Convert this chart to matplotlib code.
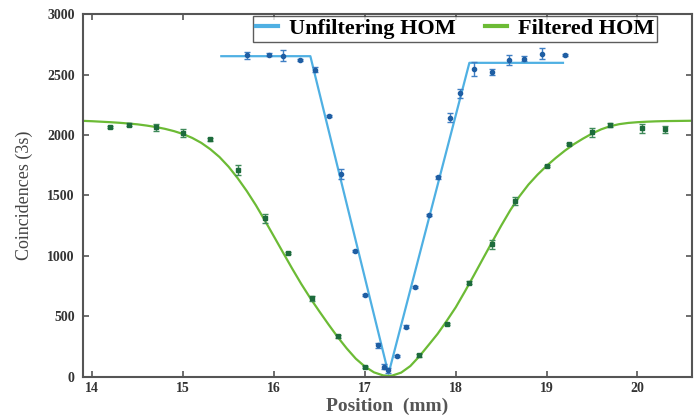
import numpy as np
import matplotlib.pyplot as plt

plt.rcParams['font.family'] = ['Liberation Serif', 'DejaVu Serif']

# unfiltered HOM measurements
pos_unf = [15.70, 15.95, 16.10, 16.29, 16.45, 16.60, 16.74, 16.89, 17.00, 17.14,
           17.21, 17.25, 17.35, 17.45, 17.55, 17.71, 17.80, 17.94, 18.05, 18.20,
           18.40, 18.59, 18.75, 18.95, 19.20]
cnt_unf = [2660, 2665, 2655, 2620, 2540, 2155, 1680, 1040, 675, 260,
           85, 55, 170, 415, 745, 1340, 1650, 2143, 2344, 2545,
           2520, 2620, 2630, 2672, 2663]
err_unf = [30, 10, 45, 10, 20, 10, 40, 10, 10, 20,
           20, 20, 10, 10, 10, 10, 15, 35, 35, 60,
           25, 40, 20, 45, 10]

# unfiltered fit (piecewise linear)
fit_unf_x = [15.42, 16.40, 17.26, 18.15, 19.18]
fit_unf_y = [2652, 2652, 25, 2597, 2597]

# filtered HOM measurements
pos_fil = [14.20, 14.40, 14.70, 15.00, 15.30, 15.60, 15.90, 16.15, 16.42, 16.70,
           17.00, 17.60, 17.90, 18.15, 18.40, 18.65, 19.00, 19.25, 19.50, 19.70,
           20.05, 20.30]
cnt_fil = [2068, 2086, 2065, 2017, 1965, 1710, 1310, 1025, 650, 335,
           85, 180, 440, 780, 1095, 1455, 1745, 1928, 2022, 2082,
           2055, 2048]
err_fil = [10, 15, 28, 35, 12, 40, 35, 10, 22, 10,
           8, 12, 8, 10, 40, 30, 10, 10, 35, 15,
           35, 30]

# filtered fit curve
fit_fil_x = [13.9, 14.0, 14.1, 14.2, 14.3, 14.4, 14.5, 14.6, 14.7, 14.8,
             14.9, 15.0, 15.1, 15.2, 15.3, 15.4, 15.5, 15.6, 15.7, 15.8,
             15.9, 16.0, 16.1, 16.2, 16.3, 16.4, 16.5, 16.6, 16.7, 16.8,
             16.9, 17.0, 17.1, 17.2, 17.26, 17.3, 17.4, 17.5, 17.6, 17.7,
             17.8, 17.9, 18.0, 18.1, 18.2, 18.3, 18.4, 18.5, 18.6, 18.7,
             18.8, 18.9, 19.0, 19.1, 19.2, 19.3, 19.4, 19.5, 19.6, 19.7,
             19.8, 19.9, 20.0, 20.1, 20.2, 20.3, 20.4, 20.5, 20.6]
fit_fil_y = [2117, 2114, 2110, 2106, 2101, 2095, 2088, 2078, 2066, 2051,
             2032, 2008, 1976, 1935, 1882, 1818, 1738, 1643, 1537, 1420,
             1292, 1160, 1027, 895, 768, 650, 540, 433, 330, 235,
             150, 85, 37, 12, 8, 10, 35, 89, 170, 262,
             355, 462, 575, 705, 840, 978, 1115, 1250, 1378, 1492,
             1590, 1672, 1745, 1810, 1870, 1924, 1970, 2012, 2047, 2073,
             2090, 2100, 2106, 2110, 2113, 2115, 2116, 2117, 2118]

fig, ax = plt.subplots(figsize=(6.99, 4.15), dpi=100)
fig.subplots_adjust(left=0.119, right=0.990, bottom=0.092, top=0.966)

ax.plot(fit_unf_x, fit_unf_y, color='#4fb0e3', lw=1.6, label='Unfiltering HOM', zorder=2)
ax.plot(fit_fil_x, fit_fil_y, color='#6cbb35', lw=1.6, label='Filtered HOM', zorder=2)

ax.errorbar(pos_unf, cnt_unf, yerr=err_unf, fmt='o', ms=3.0, color='#1f5ea3',
            ecolor='#3f7fc4', elinewidth=1.0, capsize=2.5, capthick=1.0, zorder=3)
ax.errorbar(pos_fil, cnt_fil, yerr=err_fil, fmt='s', ms=2.8, color='#1d6b3c',
            ecolor='#3f8a5a', elinewidth=1.0, capsize=2.5, capthick=1.0, zorder=3)

ax.set_xlim(13.9, 20.6)
ax.set_ylim(0, 3000)
ax.set_xticks([14, 15, 16, 17, 18, 19, 20])
ax.set_yticks([0, 500, 1000, 1500, 2000, 2500, 3000])

for s in ax.spines.values():
    s.set_color('#555555')
    s.set_linewidth(1.5)
ax.tick_params(direction='in', length=4, width=1.2, color='#555555',
               top=True, right=True, labelsize=10, labelcolor='#333333')
ax.tick_params(axis='y', pad=6)
for lab in ax.get_xticklabels() + ax.get_yticklabels():
    lab.set_fontweight('bold')

ax.set_xlabel('Position  (mm)', fontsize=14, fontweight='bold', color='#555555')
ax.xaxis.set_label_coords(0.5, -0.058)
ax.set_ylabel('Coincidences (3s)', fontsize=13, color='#444444', labelpad=10)

leg = ax.legend(loc='upper right', bbox_to_anchor=(0.943, 0.995), ncol=2,
                frameon=True, fancybox=False, borderaxespad=0,
                prop={'weight': 'bold', 'size': 16}, handlelength=1.0,
                columnspacing=1.3, handletextpad=0.5, borderpad=0.12)
leg.get_frame().set_edgecolor('#333333')
leg.get_frame().set_linewidth(1.0)
for line in leg.get_lines():
    line.set_linewidth(3)

fig.savefig('out.png', dpi=100)
